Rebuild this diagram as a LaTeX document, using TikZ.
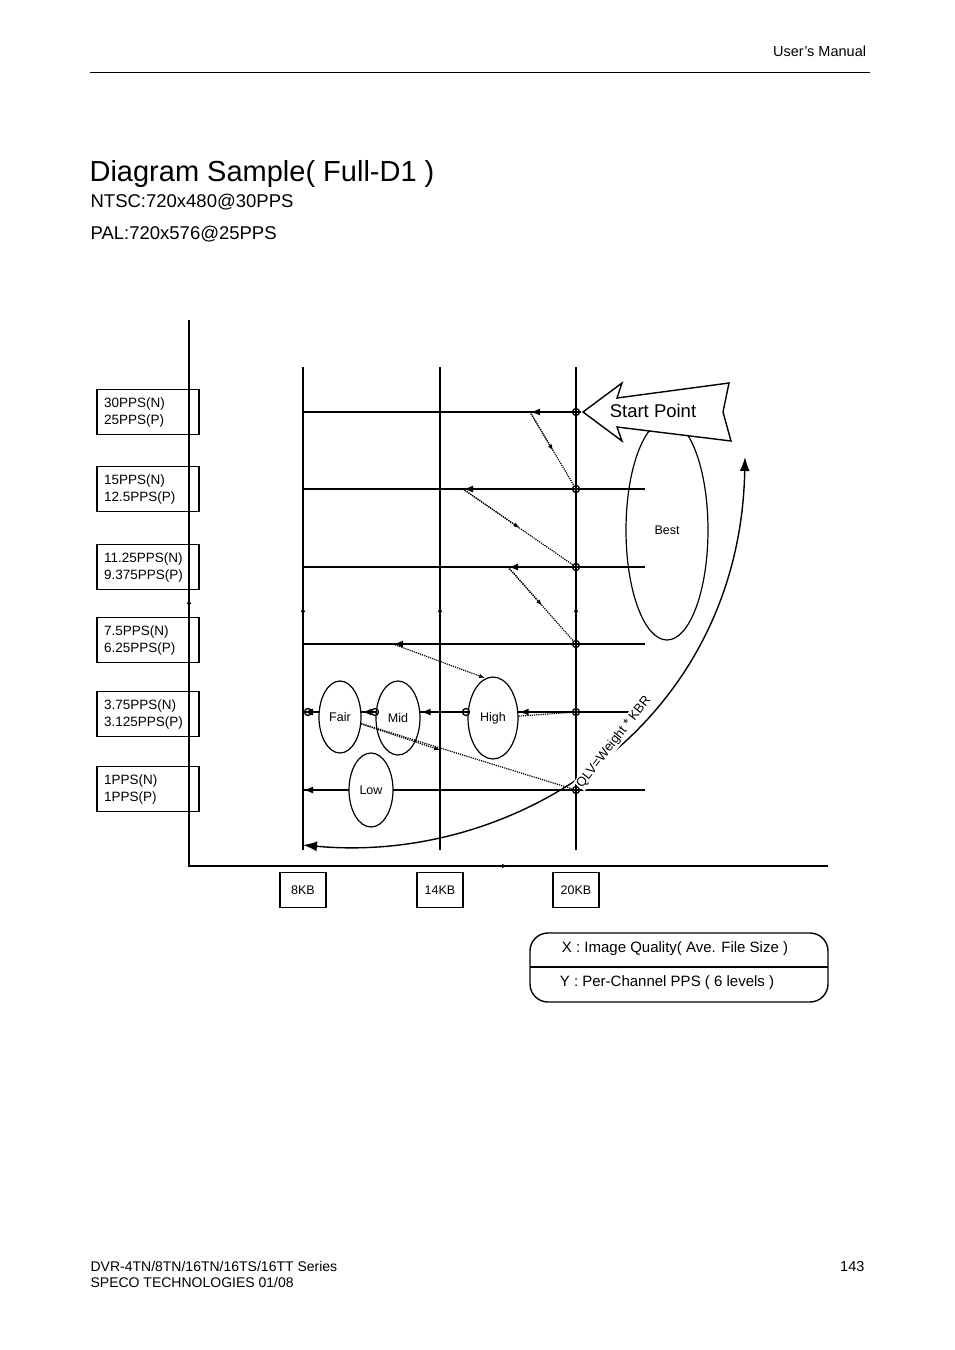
\documentclass[tikz,border=0pt]{standalone}
\usepackage{fontspec}
\setmainfont{Liberation Sans}
\usetikzlibrary{arrows.meta,shapes.geometric,calc}
\tikzset{
  ppsbox/.style={draw, line width=1.5pt, minimum width=102pt, minimum height=45pt, text width=88pt, align=left, font=\fontsize{13.5}{17}\selectfont, inner sep=6pt},
  kbbox/.style={draw, line width=1.5pt, minimum width=46pt, minimum height=35pt, font=\fontsize{12.5}{14}\selectfont},
  dot/.style={draw, line width=1.3pt, circle, inner sep=0pt, minimum size=7pt},
  level/.style={draw, line width=1.2pt, ellipse, inner sep=0pt, font=\fontsize{12.5}{14}\selectfont},
  thickarr/.style={line width=2.2pt, -{Latex[length=10pt,width=7pt]}},
  smallarr/.style={-{Latex[length=6pt,width=4.5pt]}},
}
\begin{document}
\begin{tikzpicture}[x=1pt, y=-1pt, line width=1.2pt]
    \useasboundingbox (0,0) rectangle (954,1350);
    % Kopf und Fuss
    \node[anchor=east, font=\fontsize{14.5}{16}\selectfont] (manual) at (870,51) {User’s Manual};
    \draw[line width=0.8pt] (90,72) -- (870,72);
    \node[anchor=west, inner sep=0pt, font=\fontsize{29}{32}\selectfont] (title) at (89,174) {Diagram Sample( Full-D1 )};
    \node[anchor=west, inner sep=0pt, font=\fontsize{18.5}{20}\selectfont] (ntsc) at (90,202) {NTSC:720x480@30PPS};
    \node[anchor=west, inner sep=0pt, font=\fontsize{18.5}{20}\selectfont] (pal) at (90,234) {PAL:720x576@25PPS};
    \node[anchor=west, inner sep=0pt, font=\fontsize{14}{15}\selectfont] (series) at (90,1266) {DVR-4TN/8TN/16TN/16TS/16TT Series};
    \node[anchor=west, inner sep=0pt, font=\fontsize{14}{15}\selectfont] (speco) at (90,1282) {SPECO TECHNOLOGIES 01/08};
    \node[anchor=east, inner sep=0pt, font=\fontsize{14.5}{16}\selectfont] (page) at (865,1266) {143};

    % Achsen
    \coordinate (yb) at (189,866);
    \draw[line width=1.6pt] (189,320) -- (yb) -- (828,866);
    \draw[smallarr] (189,610) -- (189,598);
    \draw[smallarr] (490,866) -- (508,866);

    % Stufen (PPS)
    \foreach \y/\n/\p [count=\i] in {412/30PPS(N)/25PPS(P), 489/15PPS(N)/12.5PPS(P),
        567/11.25PPS(N)/9.375PPS(P), 640/7.5PPS(N)/6.25PPS(P),
        714/3.75PPS(N)/3.125PPS(P), 789/1PPS(N)/1PPS(P)} {
        \node[ppsbox] (pps\i) at (148,\y) {\n\\\p};
    }

    % Dateigroessen
    \foreach \x/\t in {303/8KB, 440/14KB, 576/20KB} {
        \node[kbbox] (kb\t) at (\x,890) {\t};
        \draw[line width=1.6pt] (\x,367) -- (\x,850);
        \draw[smallarr] (\x,618) -- (\x,606);
    }

    % Zeilen und Startpunkte
    \foreach \y [count=\i] in {412,489,567,644,712,790} {
        \draw (303,\y) -- (645,\y);
        \node[dot] (s\i) at (576,\y) {};
    }
    \fill[white] (581,406) rectangle (650,418);

    % Ellipsen
    \node[level, minimum width=82pt, minimum height=220pt] (best) at (667,530) {Best};
    \node[level, minimum width=50pt, minimum height=82pt, fill=white] (high) at (493,718) {High};
    \node[level, minimum width=44pt, minimum height=74pt, fill=white] (mid) at (398,718) {Mid};
    \node[level, minimum width=42pt, minimum height=72pt, fill=white] (fair) at (340,717) {Fair};
    \node[level, minimum width=44pt, minimum height=74pt, fill=white] (low) at (371,790) {Low};

    % Start Point
    \draw[fill=white, line width=1.4pt] (583,412) -- (622,383) -- (617,398) -- (729,383)
        -- (723,412) -- (731,441) -- (617,427) -- (622,441) -- cycle;
    \node[font=\fontsize{18.5}{20}\selectfont] (start) at (653,411) {Start Point};

    % Pfeile
    \coordinate (a1) at (530,412);
    \coordinate (a2) at (463,489);
    \coordinate (a3) at (508,567);
    \coordinate (a4) at (393,644);
    \draw[thickarr] (s1) -- (a1);
    \draw[thickarr] (s2) -- (a2);
    \draw[thickarr] (s3) -- (a3);
    \draw[thickarr] (s4) -- (a4);
    \draw[thickarr] (s5) -- (high.east |- s5);
    \node[dot] (h5) at (466,712) {};
    \node[dot] (m5) at (375,712) {};
    \node[dot] (f5) at (308,712) {};
    \draw[thickarr] (h5) -- (mid.east |- h5);
    \draw[thickarr] (m5) -- (fair.east |- m5);
    \draw[thickarr] (f5) -- (303,712);
    \draw[thickarr] (low.west |- s6) -- (303,790);
    \draw[line width=2.2pt] (s6) -- (low.east |- s6);

    % punktierte Wege
    \foreach \f/\t in {a1/s2, a2/s3, a3/s4} {
        \draw[densely dotted] (\f) -- (\t);
        \draw[densely dotted, smallarr] (\f) -- ($(\f)!0.5!(\t)$);
    }
    \draw[densely dotted, smallarr] (a4) -- (485,678);
    \draw[densely dotted] (high) -- (s5);
    \draw[densely dotted] (fair) -- (s6);
    \draw[densely dotted, smallarr] (fair) -- (440,750);

    % QLV-Bogen
    \coordinate (qtop) at (745,457);
    \coordinate (qbot) at (303,845);
    \draw[line width=1.4pt, {Latex[length=14pt,width=10pt]}-{Latex[length=14pt,width=10pt]}]
        (qbot) .. controls (520,865) and (740,720) .. (qtop);
    \node[rotate=52, fill=white, inner sep=1pt, font=\fontsize{13}{14}\selectfont] (qlv) at (614,742) {QLV=Weight * KBR};

    % Legende
    \draw[line width=1.4pt, rounded corners=18pt] (530,933) rectangle (828,1002);
    \draw (530,967) -- (828,967);
    \node[font=\fontsize{15}{16}\selectfont] (xlab) at (675,949) {X : Image Quality( Ave. File Size )};
    \node[font=\fontsize{15}{16}\selectfont] (ylab) at (667,983) {Y : Per-Channel PPS ( 6 levels )};
\end{tikzpicture}
\end{document}
